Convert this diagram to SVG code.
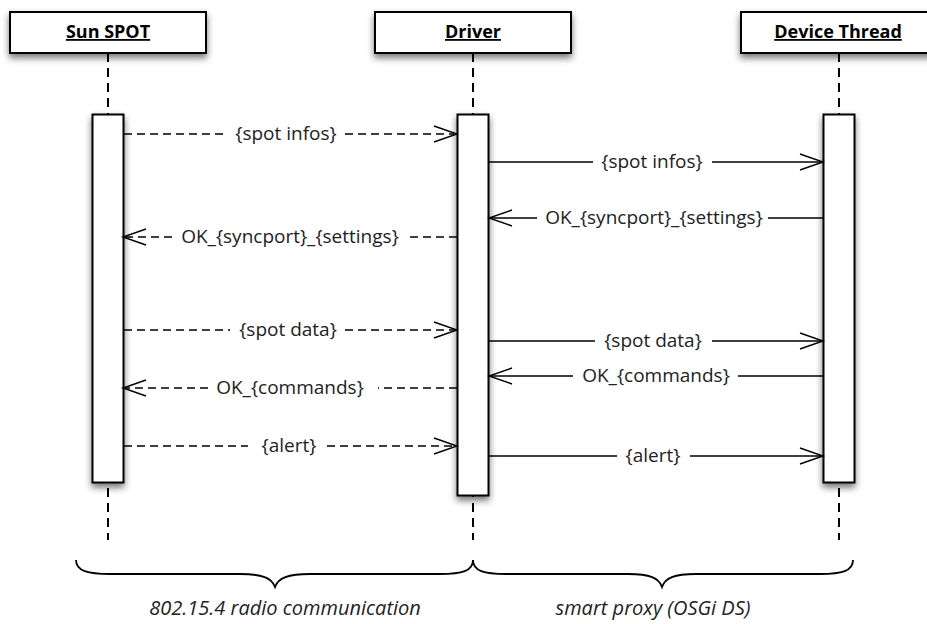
<svg xmlns="http://www.w3.org/2000/svg" width="927" height="624" viewBox="0 0 927 624">
<defs>
<filter id="sh" x="-40%" y="-30%" width="180%" height="160%">
<feDropShadow dx="0" dy="4" stdDeviation="3.5" flood-color="#000" flood-opacity="0.55"/>
</filter>
<marker id="arr" markerWidth="30" markerHeight="20" refX="24" refY="9" orient="auto" markerUnits="userSpaceOnUse">
<path d="M1,1 L24,9 L1,17" fill="none" stroke="#000" stroke-width="1.4" stroke-dasharray="none"/>
</marker>
</defs>
<style>
.box{fill:#fff;stroke:#000;stroke-width:2;filter:url(#sh)}
.life{stroke:#000;stroke-width:2;stroke-dasharray:9 6;fill:none}
.hdr{font-family:"Open Sans","Liberation Sans",sans-serif;font-weight:bold;font-size:18px;text-anchor:middle;text-decoration:underline;fill:#000}
.msg{font-family:"Open Sans","Liberation Sans",sans-serif;font-size:19px;text-anchor:middle;fill:#222}
.dash{stroke:#000;stroke-width:1.4;stroke-dasharray:8 5;fill:none}
.solid{stroke:#000;stroke-width:1.4;fill:none}
.cap{font-family:"Open Sans","Liberation Sans",sans-serif;font-style:italic;font-size:20px;text-anchor:middle;fill:#222}
.brace{stroke:#000;stroke-width:1.8;fill:none}
</style>
<rect width="927" height="624" fill="#fff"/>
<g id="sunspot">
<line class="life" x1="108" y1="53" x2="108" y2="540"/>
<rect class="box" x="10" y="12" width="196" height="41"/>
<text class="hdr" x="108" y="38">Sun SPOT</text>
<rect class="box" x="92.5" y="114.5" width="31" height="368"/>
</g>
<g id="driver">
<line class="life" x1="473" y1="53" x2="473" y2="540"/>
<rect class="box" x="375" y="12" width="196" height="41"/>
<text class="hdr" x="473" y="38">Driver</text>
<rect class="box" x="457.5" y="114.5" width="31" height="381"/>
</g>
<g id="devicethread">
<line class="life" x1="839" y1="53" x2="839" y2="540"/>
<rect class="box" x="741" y="12" width="196" height="41"/>
<text class="hdr" x="838" y="38">Device Thread</text>
<rect class="box" x="823.5" y="114.5" width="31" height="368"/>
</g>
<g id="connectors">
<line class="dash" x1="124" y1="134" x2="228" y2="134"/>
<line class="dash" x1="345" y1="134" x2="457" y2="134" marker-end="url(#arr)"/>
<text class="msg" x="286" y="140">{spot infos}</text>
<line class="solid" x1="489" y1="162" x2="593" y2="162"/>
<line class="solid" x1="712" y1="162" x2="823" y2="162" marker-end="url(#arr)"/>
<text class="msg" x="652" y="168">{spot infos}</text>
<line class="solid" x1="823" y1="218" x2="768" y2="218"/>
<line class="solid" x1="537" y1="218" x2="489" y2="218" marker-end="url(#arr)"/>
<text class="msg" x="654" y="224">OK_{syncport}_{settings}</text>
<line class="dash" x1="457" y1="237" x2="409" y2="237"/>
<line class="dash" x1="172" y1="237" x2="123" y2="237" marker-end="url(#arr)"/>
<text class="msg" x="290" y="243">OK_{syncport}_{settings}</text>
<line class="dash" x1="124" y1="330" x2="230" y2="330"/>
<line class="dash" x1="345" y1="330" x2="457" y2="330" marker-end="url(#arr)"/>
<text class="msg" x="288" y="336">{spot data}</text>
<line class="solid" x1="489" y1="341" x2="595" y2="341"/>
<line class="solid" x1="712" y1="341" x2="823" y2="341" marker-end="url(#arr)"/>
<text class="msg" x="653" y="347">{spot data}</text>
<line class="solid" x1="823" y1="376" x2="738" y2="376"/>
<line class="solid" x1="573" y1="376" x2="489" y2="376" marker-end="url(#arr)"/>
<text class="msg" x="656" y="382">OK_{commands}</text>
<line class="dash" x1="457" y1="388" x2="378" y2="388"/>
<line class="dash" x1="208" y1="388" x2="123" y2="388" marker-end="url(#arr)"/>
<text class="msg" x="290" y="394">OK_{commands}</text>
<line class="dash" x1="124" y1="446" x2="248" y2="446"/>
<line class="dash" x1="327" y1="446" x2="457" y2="446" marker-end="url(#arr)"/>
<text class="msg" x="289" y="452">{alert}</text>
<line class="solid" x1="489" y1="456" x2="617" y2="456"/>
<line class="solid" x1="690" y1="456" x2="823" y2="456" marker-end="url(#arr)"/>
<text class="msg" x="653" y="462">{alert}</text>
</g>
<g id="annotations">
<path class="brace" d="M76,560 C76,571 88,574 110,574 L240,574 C262,574 272,578 275,587 C278,578 288,574 310,574 L440,574 C462,574 473,571 473,560"/>
<path class="brace" d="M473,560 C473,571 484,574 506,574 L628,574 C650,574 659,578 662,587 C665,578 674,574 696,574 L820,574 C842,574 853,571 853,560"/>
<text class="cap" x="285" y="615">802.15.4 radio communication</text>
<text class="cap" x="653" y="615">smart proxy (OSGi DS)</text>
</g>
</svg>
